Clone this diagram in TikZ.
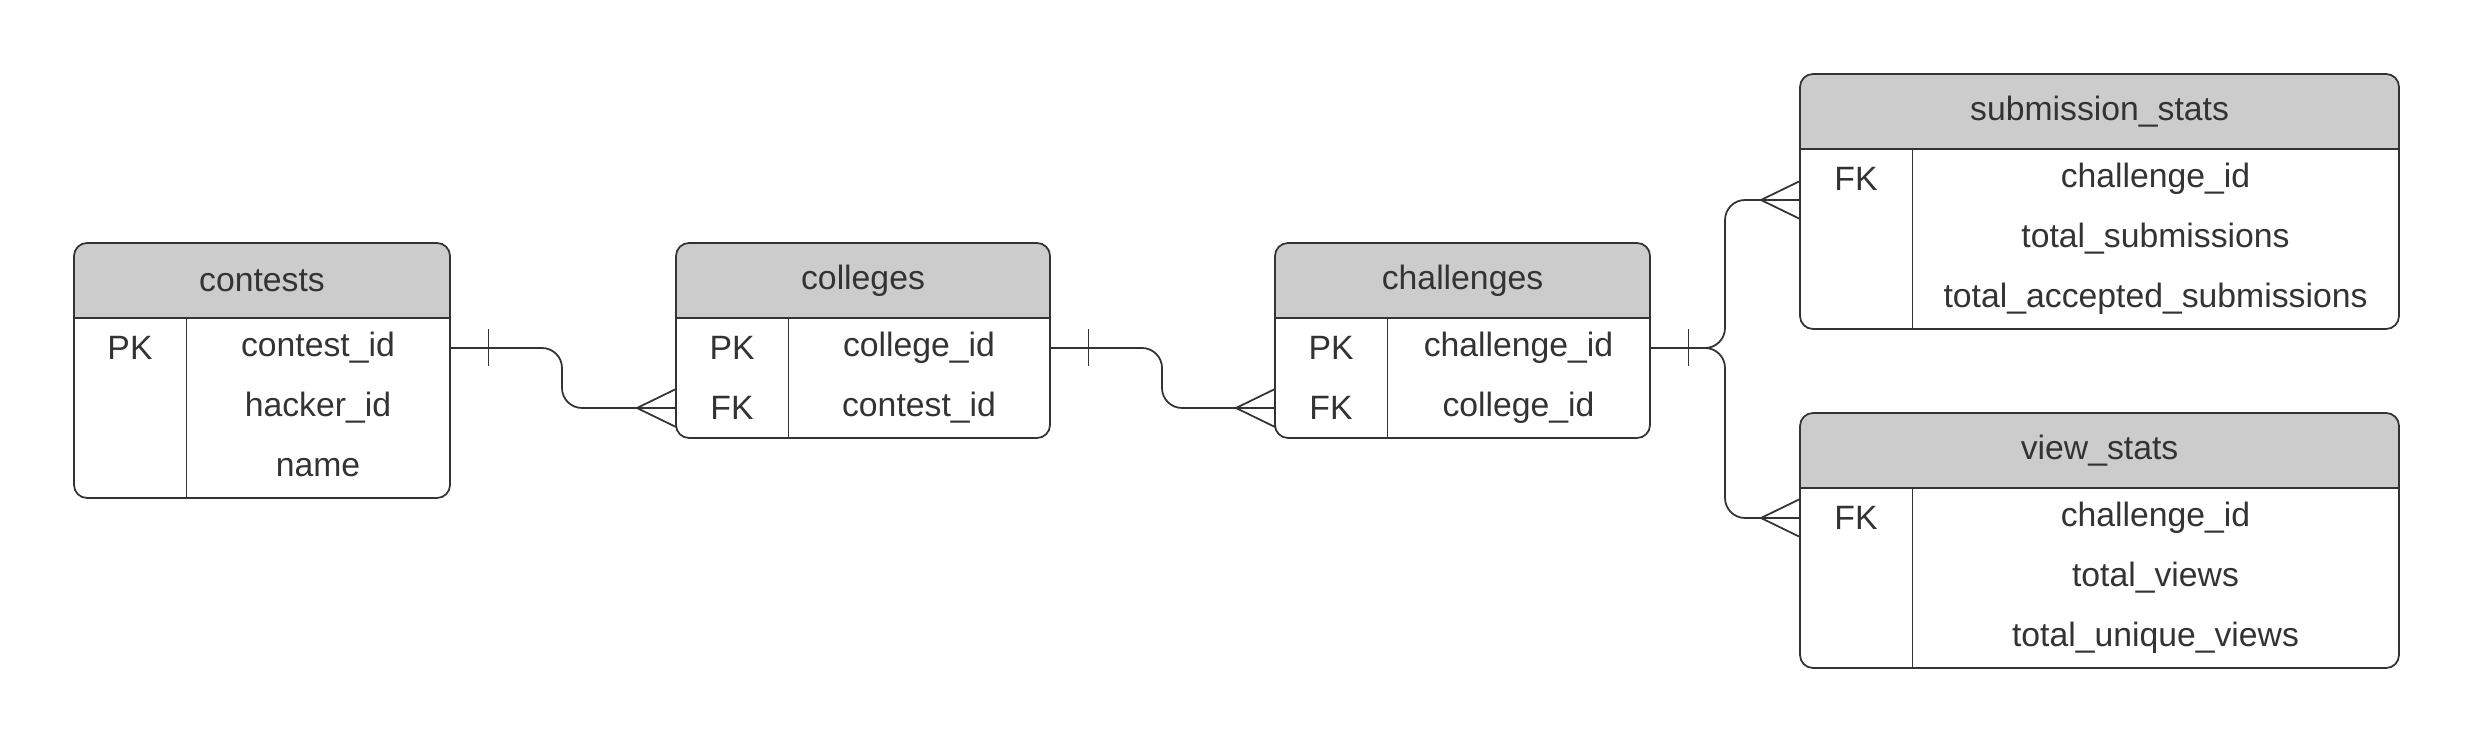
\documentclass[tikz,border=0pt]{standalone}
\usepackage{fontspec}
\setmainfont{Liberation Sans}
\usetikzlibrary{positioning,backgrounds,calc}
\definecolor{lineColor}{HTML}{333333}
\definecolor{headColor}{HTML}{CCCCCC}
\definecolor{textColor}{HTML}{333333}
\tikzset{
	cell/.style={inner sep=0, outer sep=0, minimum height=0.6cm, text=textColor,
		font=\fontsize{9.6}{11}\selectfont},
	keycell/.style={cell, minimum width=1.12cm},
	fieldcell/.style={cell, minimum width=#1},
	fieldcell/.default=2.63cm,
	headcell/.style={cell, minimum height=0.75cm, minimum width=#1},
	headcell/.default=3.75cm,
	frame/.style={draw=lineColor, line width=0.5pt, rounded corners=1.3mm},
	link/.style={draw=lineColor, line width=0.5pt},
	crow/.pic={\draw[link] (0,0.19) -- (-0.39,0) -- (0,-0.19);},
	one/.pic={\draw[draw=lineColor, line width=0.28pt] (0,0.185) -- (0,-0.185);}
}
% header node, first key cell, last key cell, last field cell
\newcommand{\ertable}[4]{%
	\begin{scope}[on background layer]
		\begin{scope}
			\clip[rounded corners=1.3mm] (#1.north west) rectangle (#4.south east);
			\fill[headColor] (#1.north west) rectangle (#1.south east);
		\end{scope}
	\end{scope}
	\draw[frame] (#1.north west) rectangle (#4.south east);
	\draw[lineColor, line width=0.5pt] (#1.south west) -- (#1.south east);
	\draw[lineColor, line width=0.28pt] (#2.north east) -- (#3.south east);
}

\begin{document}
\begin{tikzpicture}
	\useasboundingbox (0,0) rectangle (24.75,-7.43);
	
	% contests
	\node[headcell=3.76cm, anchor=north west] (contests) at (0.74,-2.43) {contests};
	\node[keycell, below=0pt of contests.south west, anchor=north west] (contests-k1) {PK};
	\node[keycell, below=0pt of contests-k1] (contests-k2) {};
	\node[keycell, below=0pt of contests-k2] (contests-k3) {};
	\node[fieldcell=2.64cm, right=0pt of contests-k1] (contests-1) {contest\_id};
	\node[fieldcell=2.64cm, right=0pt of contests-k2] (contests-2) {hacker\_id};
	\node[fieldcell=2.64cm, right=0pt of contests-k3] (contests-3) {name};
	\ertable{contests}{contests-k1}{contests-k3}{contests-3}
	
	% colleges
	\node[headcell=3.74cm, anchor=north west] (colleges) at (6.76,-2.43) {colleges};
	\node[keycell, below=0pt of colleges.south west, anchor=north west] (colleges-k1) {PK};
	\node[keycell, below=0pt of colleges-k1] (colleges-k2) {FK};
	\node[fieldcell=2.62cm, right=0pt of colleges-k1] (colleges-1) {college\_id};
	\node[fieldcell=2.62cm, right=0pt of colleges-k2] (colleges-2) {contest\_id};
	\ertable{colleges}{colleges-k1}{colleges-k2}{colleges-2}
	
	% challenges
	\node[headcell=3.75cm, anchor=north west] (challenges) at (12.75,-2.43) {challenges};
	\node[keycell, below=0pt of challenges.south west, anchor=north west] (challenges-k1) {PK};
	\node[keycell, below=0pt of challenges-k1] (challenges-k2) {FK};
	\node[fieldcell, right=0pt of challenges-k1] (challenges-1) {challenge\_id};
	\node[fieldcell, right=0pt of challenges-k2] (challenges-2) {college\_id};
	\ertable{challenges}{challenges-k1}{challenges-k2}{challenges-2}
	
	% submission_stats
	\node[headcell=5.99cm, anchor=north west] (subs) at (18.00,-0.74) {submission\_stats};
	\node[keycell, below=0pt of subs.south west, anchor=north west] (subs-k1) {FK};
	\node[keycell, below=0pt of subs-k1] (subs-k2) {};
	\node[keycell, below=0pt of subs-k2] (subs-k3) {};
	\node[fieldcell=4.87cm, right=0pt of subs-k1] (subs-1) {challenge\_id};
	\node[fieldcell=4.87cm, right=0pt of subs-k2] (subs-2) {total\_submissions};
	\node[fieldcell=4.87cm, right=0pt of subs-k3] (subs-3) {total\_accepted\_submissions};
	\ertable{subs}{subs-k1}{subs-k3}{subs-3}
	
	% view_stats
	\node[headcell=5.99cm, anchor=north west] (views) at (18.00,-4.13) {view\_stats};
	\node[keycell, below=0pt of views.south west, anchor=north west] (views-k1) {FK};
	\node[keycell, below=0pt of views-k1] (views-k2) {};
	\node[keycell, below=0pt of views-k2] (views-k3) {};
	\node[fieldcell=4.87cm, right=0pt of views-k1] (views-1) {challenge\_id};
	\node[fieldcell=4.87cm, right=0pt of views-k2] (views-2) {total\_views};
	\node[fieldcell=4.87cm, right=0pt of views-k3] (views-3) {total\_unique\_views};
	\ertable{views}{views-k1}{views-k3}{views-3}
	
	% relations
	\draw[link, rounded corners=2mm] (contests-1.east) -- ++(1.12,0) |- (colleges-k2.west);
	\pic at ($(contests-1.east)+(0.38,0)$) {one};
	\pic at (colleges-k2.west) {crow};
	
	\draw[link, rounded corners=2mm] (colleges-1.east) -- ++(1.12,0) |- (challenges-k2.west);
	\pic at ($(colleges-1.east)+(0.38,0)$) {one};
	\pic at (challenges-k2.west) {crow};
	
	\coordinate (subs-in) at ($(subs-k1.west)+(0,-0.21)$);
	\draw[link, rounded corners=2mm] (challenges-1.east) -- ++(0.75,0) |- (subs-in);
	\draw[link, rounded corners=2mm] (challenges-1.east) -- ++(0.75,0) |- (views-k1.west);
	\pic at ($(challenges-1.east)+(0.38,0)$) {one};
	\pic at (subs-in) {crow};
	\pic at (views-k1.west) {crow};
\end{tikzpicture}
\end{document}
